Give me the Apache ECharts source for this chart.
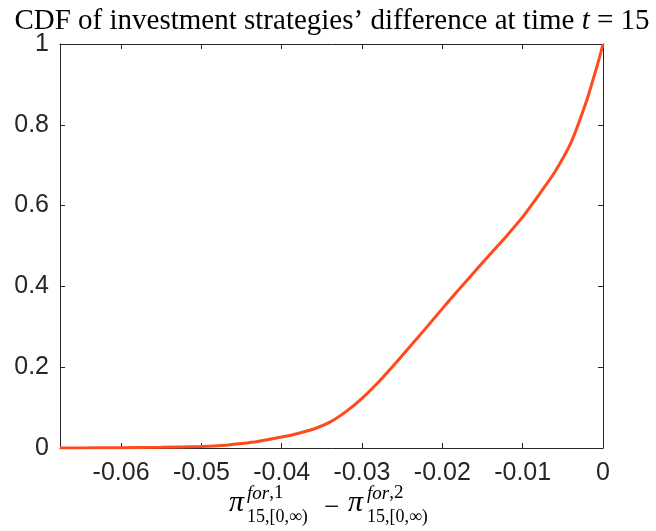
<!DOCTYPE html>
<html>
<head>
<meta charset="utf-8">
<script src="https://cdn.jsdelivr.net/npm/echarts@6/dist/echarts.min.js"></script>
<style>
html,body{margin:0;padding:0;background:#fff;}
#chart{width:656px;height:531px;}
</style>
</head>
<body>
<div id="chart"></div>
<script>
// ---- data ----
const xValues = [-0.0676, -0.065, -0.06, -0.055, -0.05, -0.047, -0.045, -0.043, -0.04, -0.038, -0.036, -0.034, -0.032, -0.03, -0.028, -0.026, -0.024, -0.022, -0.02, -0.018, -0.016, -0.014, -0.012, -0.01, -0.008, -0.006, -0.004, -0.002, -0.001, -0.0005, 0];
const cdfValues = [0, 0.0002, 0.0006, 0.0016, 0.004, 0.007, 0.011, 0.016, 0.027, 0.036, 0.047, 0.064, 0.09, 0.123, 0.162, 0.206, 0.252, 0.298, 0.345, 0.391, 0.436, 0.481, 0.525, 0.572, 0.626, 0.683, 0.755, 0.862, 0.928, 0.962, 1.0];
const xRange = [-0.0676, 0];
const yRange = [0, 1];
const yTickStep = 0.2;
const titleMain = 'CDF of investment strategies\u2019 difference at time ';
const titleVar = 't';
const titleTail = ' = 15';

const seriesData = xValues.map((x, i) => [x, cdfValues[i]]);

const axisColor = '#262626';
const chart = echarts.init(document.getElementById('chart'));

const tfs = 29;
const serif = '"Liberation Serif", "Times New Roman", serif';

const xl = function (v) { return v === 0 ? '0' : v.toFixed(2); };
const yl = function (v) { return (v === 0 || v === 1) ? String(v) : v.toFixed(1); };

chart.setOption({
  animation: false,
  backgroundColor: '#fff',
  title: {
    left: 327, textAlign: 'center', top: 2,
    text: '{a|' + titleMain + '}{b|' + titleVar + '}{a|' + titleTail + '}',
    textStyle: {
      fontWeight: 'normal',
      rich: {
        a: {fontFamily: serif, fontSize: tfs, fontWeight: 'normal', color: '#000'},
        b: {fontFamily: serif, fontSize: tfs, fontWeight: 'normal', fontStyle: 'italic', color: '#000'}
      }
    }
  },
  grid: {left: 60, right: 53, top: 44, bottom: 83, containLabel: false},
  xAxis: [{
    type: 'value', min: xRange[0], max: xRange[1], splitNumber: 7, position: 'bottom',
    axisLine: {show: true, onZero: false, lineStyle: {color: axisColor, width: 1}},
    axisTick: {show: true, inside: true, length: 5, lineStyle: {color: axisColor}},
    axisLabel: {show: true, margin: 13, fontSize: 25, color: axisColor, fontFamily: 'Liberation Sans, Arial, sans-serif', formatter: xl, showMinLabel: false},
    splitLine: {show: false}
  }, {
    type: 'value', min: xRange[0], max: xRange[1], splitNumber: 7, position: 'top',
    axisLine: {show: true, onZero: false, lineStyle: {color: axisColor, width: 1}},
    axisTick: {show: true, inside: true, length: 5, lineStyle: {color: axisColor}},
    axisLabel: {show: false},
    splitLine: {show: false}
  }],
  yAxis: [{
    type: 'value', min: yRange[0], max: yRange[1], interval: yTickStep, position: 'left',
    axisLine: {show: true, onZero: false, lineStyle: {color: axisColor, width: 1}},
    axisTick: {show: true, inside: true, length: 5, lineStyle: {color: axisColor}},
    axisLabel: {show: true, margin: 11, fontSize: 25, color: axisColor, fontFamily: 'Liberation Sans, Arial, sans-serif', formatter: yl},
    splitLine: {show: false}
  }, {
    type: 'value', min: yRange[0], max: yRange[1], interval: yTickStep, position: 'right',
    axisLine: {show: true, onZero: false, lineStyle: {color: axisColor, width: 1}},
    axisTick: {show: true, inside: true, length: 5, lineStyle: {color: axisColor}},
    axisLabel: {show: false},
    splitLine: {show: false}
  }],
  series: [{
    type: 'line', xAxisIndex: 0, yAxisIndex: 0,
    data: seriesData,
    showSymbol: false,
    smooth: 0.25,
    lineStyle: {color: '#ff4a1e', width: 3},
    itemStyle: {color: '#ff4a1e'},
    clip: true
  }],
  graphic: [
    {type: 'text', left: 229, top: 488, style: {text: '\u03c0', font: 'italic 30px ' + serif, fill: '#000'}},
    {type: 'text', left: 247, top: 484, style: {text: '{i|for}{r|,1}', rich: {i: {fontFamily: serif, fontStyle: 'italic', fontSize: 19, fill: '#000'}, r: {fontFamily: serif, fontSize: 19, fill: '#000'}}}},
    {type: 'text', left: 247, top: 508, style: {text: '15,[0,\u221e)', font: '18px ' + serif, fill: '#000'}},
    {type: 'text', left: 324, top: 494, style: {text: '\u2212', font: '27px ' + serif, fill: '#000'}},
    {type: 'text', left: 348, top: 488, style: {text: '\u03c0', font: 'italic 30px ' + serif, fill: '#000'}},
    {type: 'text', left: 367, top: 484, style: {text: '{i|for}{r|,2}', rich: {i: {fontFamily: serif, fontStyle: 'italic', fontSize: 19, fill: '#000'}, r: {fontFamily: serif, fontSize: 19, fill: '#000'}}}},
    {type: 'text', left: 367, top: 508, style: {text: '15,[0,\u221e)', font: '18px ' + serif, fill: '#000'}}
  ]
});
</script>
</body>
</html>
